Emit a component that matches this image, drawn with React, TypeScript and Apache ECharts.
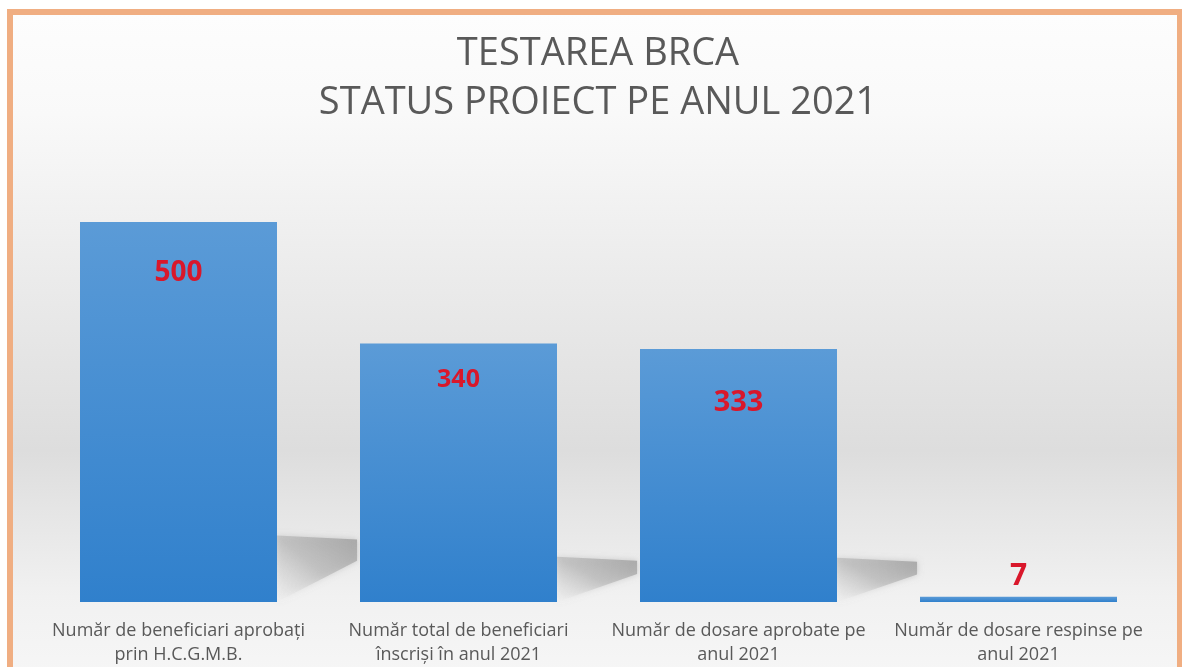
import React, { useEffect, useRef } from "react";
import * as echarts from "echarts";

const titleLines = ["TESTAREA BRCA", "STATUS PROIECT PE ANUL 2021"];
const categories = [
  "Număr de beneficiari aprobați\nprin H.C.G.M.B.",
  "Număr total de beneficiari\nînscriși în anul 2021",
  "Număr de dosare aprobate pe\nanul 2021",
  "Număr de dosare respinse pe\nanul 2021",
];
const values = [500, 340, 333, 7];

// label styling per bar (position inside / above, distance, font size)
const labelLook = [
  { position: "insideTop", distance: 34, fontSize: 28 },
  { position: "insideTop", distance: 21, fontSize: 25 },
  { position: "insideTop", distance: 36, fontSize: 29 },
  { position: "top", distance: 8, fontSize: 30 },
];

const FONT = "'Open Sans', 'Noto Sans', sans-serif";

export default function App() {
  const ref = useRef<HTMLDivElement>(null);
  useEffect(() => {
    if (!ref.current) return;
    const chart = echarts.init(ref.current, undefined, { renderer: "svg" });
    const barGrad = new echarts.graphic.LinearGradient(0, 0, 0, 1, [
      { offset: 0, color: "#5B9BD7" },
      { offset: 1, color: "#3080CC" },
    ]);
    chart.setOption({
      animation: false,
      graphic: [
        {
          type: "rect",
          z: -10,
          silent: true,
          shape: { x: 13, y: 15, width: 1164, height: 660 },
          style: {
            fill: new echarts.graphic.LinearGradient(0, 0, 0, 1, [
              { offset: 0, color: "#fdfdfd" },
              { offset: 0.15, color: "#f9f9f9" },
              { offset: 0.4, color: "#ebebeb" },
              { offset: 0.66, color: "#dddddd" },
              { offset: 0.88, color: "#f1f1f1" },
              { offset: 1, color: "#f6f6f6" },
            ]),
          },
        },
        {
          type: "rect",
          z: 100,
          silent: true,
          shape: { x: 10, y: 12, width: 1170, height: 700 },
          style: { fill: "none", stroke: "#F0AE82", lineWidth: 6 },
        },
        ...titleLines.map((t, i) => ({
          type: "text",
          z: 100,
          x: 598,
          y: 50 + i * 49,
          style: {
            text: t,
            font: `38px ${FONT}`,
            fill: "#595959",
            align: "center",
            verticalAlign: "middle",
          },
        })),
      ],
      grid: { left: 38.5, right: 23.5, top: 222, bottom: 65 },
      xAxis: {
        type: "category",
        data: categories,
        axisLine: { show: false },
        axisTick: { show: false },
        axisLabel: {
          interval: 0,
          margin: 15,
          color: "#595959",
          fontFamily: FONT,
          fontSize: 18,
          lineHeight: 24,
        },
      },
      yAxis: {
        type: "value",
        min: 0,
        max: 500,
        show: false,
        splitLine: { show: false },
      },
      series: [
        {
          type: "custom",
          z: 1,
          silent: true,
          data: values.map((v, i) => [i, v]),
          renderItem: (params: any, api: any) => {
            const idx = api.value(0);
            const v = api.value(1);
            const base = api.coord([idx, 0]);
            const band = api.size([1, 0])[0];
            const R = base[0] + band * 0.352;
            const top = api.coord([idx, v * 0.175])[1];
            const h = base[1] - top;
            if (h < 10) return null;
            return {
              type: "polygon",
              shape: {
                points: [
                  [R, top],
                  [R + 80, top + 4],
                  [R + 80, top + h * 0.38],
                  [R, base[1]],
                ],
              },
              style: {
                fill: new echarts.graphic.LinearGradient(1, 0, 0, 1, [
                  { offset: 0, color: "rgba(165,165,165,0.95)" },
                  { offset: 0.5, color: "rgba(180,180,180,0.6)" },
                  { offset: 1, color: "rgba(225,225,225,0.05)" },
                ]),
                shadowBlur: 6,
                shadowColor: "rgba(150,150,150,0.5)",
              },
            };
          },
        },
        {
          type: "bar",
          z: 2,
          barWidth: 197,
          data: values.map((v, i) => ({
            value: v,
            label: {
              show: true,
              position: labelLook[i].position,
              distance: labelLook[i].distance,
              fontSize: labelLook[i].fontSize,
            },
          })),
          itemStyle: { color: barGrad },
          label: {
            show: true,
            color: "#D9172B",
            fontWeight: "bold",
            fontFamily: FONT,
          },
        },
      ],
    });
    return () => chart.dispose();
  }, []);
  return (
    <div
      ref={ref}
      style={{ position: "fixed", left: 0, top: 0, width: 1182, height: 667 }}
    />
  );
}
